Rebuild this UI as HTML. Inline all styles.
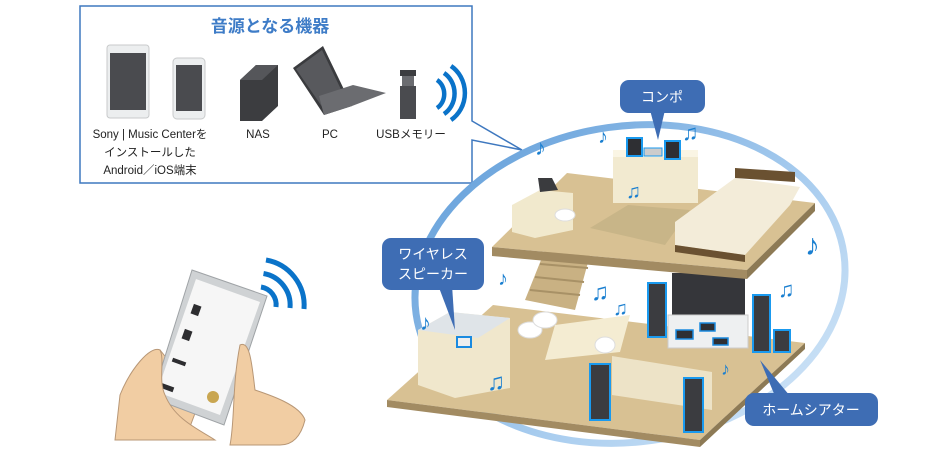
<!DOCTYPE html>
<html><head><meta charset="utf-8">
<style>
html,body{margin:0;padding:0;background:#fff;}
svg{display:block;}
text{font-family:"Liberation Sans","Noto Sans CJK JP",sans-serif;}
</style></head>
<body>
<svg width="950" height="452" viewBox="0 0 950 452" xmlns="http://www.w3.org/2000/svg">
<defs>
<linearGradient id="ell" x1="0" y1="0" x2="1" y2="1">
<stop offset="0" stop-color="#5d9bd8"/><stop offset="0.6" stop-color="#a9cdef"/><stop offset="1" stop-color="#d6e8f8"/>
</linearGradient>
</defs>

<!-- source box -->
<path d="M80 6 H472 V121 L522 150 L472 140 V183 H80 Z" fill="#fff" stroke="#3e78bf" stroke-width="1.5"/>
<text x="270" y="32" font-size="17" fill="#3e7cc7" text-anchor="middle" font-weight="bold">音源となる機器</text>
<rect x="107" y="45" width="42" height="73" rx="3" fill="#eceeef" stroke="#c8cacb"/>
<rect x="110" y="53" width="36" height="57" fill="#4a4b4f"/>
<rect x="173" y="58" width="32" height="61" rx="4" fill="#eceeef" stroke="#c8cacb"/>
<rect x="176" y="65" width="26" height="46" fill="#4a4b4f"/>
<polygon points="240,80 256,65 278,65 278,106 262,121 240,121" fill="#3c3d40"/>
<polygon points="256,65 278,65 262,80 240,80" fill="#55565a"/>
<polygon points="293,68 323,46 352,106 324,115" fill="#3a3b3e"/>
<polygon points="296,69 322,50 348,104 325,111" fill="#58595d"/>
<polygon points="324,115 352,106 386,93 353,85 319,96" fill="#6b6c70"/>
<rect x="400" y="70" width="16" height="6" fill="#3c3d40"/>
<rect x="402" y="76" width="12" height="10" fill="#6b6c70"/>
<rect x="400" y="86" width="16" height="33" fill="#4a4b4f"/>
<g fill="none" stroke="#0a73c9" stroke-width="4.5">
<path d="M437 80 A14 16 0 0 1 437 108"/>
<path d="M444 73 A22 24 0 0 1 444 114"/>
<path d="M451 66 A30 32 0 0 1 451 120"/>
</g>
<g font-size="11.5" fill="#222" text-anchor="middle">
<text x="150" y="138">Sony | Music Centerを</text>
<text x="150" y="156">インストールした</text>
<text x="150" y="174">Android／iOS端末</text>
<text x="258" y="138">NAS</text>
<text x="330" y="138">PC</text>
<text x="411" y="138">USBメモリー</text>
</g>

<!-- hand phone -->
<g fill="none" stroke="#0a73c9" stroke-width="5">
<path d="M261 287 A18 18 0 0 1 276 307"/>
<path d="M263.5 273.5 A32 32 0 0 1 290 308"/>
<path d="M266 260 A46 46 0 0 1 304 309"/>
</g>
<path d="M160 350 C150 360 140 385 135 410 L128 440 L185 440 L200 400 Z" fill="#f1cda3" stroke="#b89776" stroke-width="1"/>
<polygon points="192,270 267,296 224,425 152,398" fill="#cfd2d4" stroke="#9fa3a6"/>
<polygon points="196,279 260,302 220,415 157,392" fill="#f6f6f6"/>
<g fill="#2d2d30">
<rect x="192" y="305" width="8" height="10" transform="rotate(20 196 310)"/>
<rect x="183" y="330" width="8" height="10" transform="rotate(20 187 335)"/>
<rect x="172" y="360" width="14" height="4" transform="rotate(20 179 362)"/>
<rect x="160" y="385" width="14" height="5" transform="rotate(20 167 387)"/>
</g>
<circle cx="213" cy="397" r="6" fill="#c9a651"/>
<path d="M120 395 C130 370 150 345 160 350 C165 360 158 380 165 395 C175 420 200 430 215 440 L115 440 Z" fill="#f1cda3" stroke="#b89776"/>
<path d="M240 345 C250 340 252 365 255 390 C270 395 300 405 305 420 C300 440 290 445 280 445 L230 445 C235 420 232 385 240 345 Z" fill="#f1cda3" stroke="#b89776"/>

<!-- ellipse -->
<ellipse cx="630" cy="284" rx="216" ry="158" fill="none" stroke="url(#ell)" stroke-width="7" transform="rotate(-8 630 284)"/>

<!-- lower floor -->
<polygon points="387,400 493,305 805,343 700,440" fill="#d8c193"/>
<polygon points="387,400 700,440 700,447 387,407" fill="#a28b62"/>
<polygon points="700,440 805,343 805,349 700,447" fill="#8d7a55"/>
<polygon points="525,300 545,250 590,255 575,310" fill="#c9b183"/>
<g stroke="#a89166" stroke-width="2"><line x1="530" y1="290" x2="580" y2="295"/><line x1="535" y1="277" x2="584" y2="282"/><line x1="540" y1="264" x2="588" y2="268"/></g>
<polygon points="418,330 450,312 510,318 510,388 455,398 418,385" fill="#f0e7cc"/>
<polygon points="418,330 450,312 510,318 478,338" fill="#dfe4e8"/>
<rect x="457" y="337" width="14" height="10" fill="#eee" stroke="#1a8ae0" stroke-width="2"/>
<polygon points="555,325 630,315 620,352 545,360" fill="#f4ecd2"/>
<g fill="#fff" stroke="#ddd"><ellipse cx="530" cy="330" rx="12" ry="8"/><ellipse cx="545" cy="320" rx="12" ry="8"/><ellipse cx="605" cy="345" rx="10" ry="8"/></g>
<polygon points="612,356 712,372 712,410 612,395" fill="#ede3c7"/>
<rect x="672" y="273" width="73" height="42" fill="#35363a"/>
<rect x="668" y="315" width="80" height="33" fill="#eef0f1" stroke="#ccc"/>
<g fill="#2e2f33" stroke="#1a8ae0" stroke-width="1.5">
<rect x="700" y="323" width="15" height="8"/><rect x="676" y="330" width="17" height="9"/><rect x="713" y="338" width="15" height="7"/>
</g>
<g fill="#3b3c40" stroke="#1a9aef" stroke-width="2">
<rect x="648" y="283" width="18" height="54"/>
<rect x="753" y="295" width="17" height="57"/>
<rect x="774" y="330" width="16" height="22"/>
<rect x="590" y="364" width="20" height="56"/>
<rect x="684" y="378" width="19" height="54"/>
</g>

<!-- upper floor -->
<polygon points="492,247 567,173 815,203 747,270" fill="#d8c193"/>
<polygon points="492,247 747,270 747,279 492,256" fill="#a28b62"/>
<polygon points="747,270 815,203 815,211 747,279" fill="#8d7a55"/>
<polygon points="590,228 628,205 690,210 665,245" fill="#c8b588"/>
<polygon points="512,205 540,190 573,193 573,230 535,238 512,232" fill="#f1e9cd"/>
<polygon points="538,178 552,178 558,190 540,192" fill="#3a3b3e"/>
<ellipse cx="565" cy="215" rx="10" ry="6" fill="#fff" stroke="#ddd"/>
<rect x="613" y="155" width="85" height="48" fill="#f2ead0"/>
<rect x="613" y="150" width="85" height="7" fill="#faf5e4"/>
<g fill="#2e2f33" stroke="#1a9aef" stroke-width="2">
<rect x="627" y="138" width="15" height="18"/><rect x="665" y="141" width="15" height="18"/>
</g>
<rect x="644" y="148" width="18" height="8" fill="#ccc" stroke="#1a9aef"/>
<polygon points="675,222 735,178 800,187 790,205 745,255 675,245" fill="#f3ecd9"/>
<polygon points="675,245 745,255 745,262 675,252" fill="#6a5131"/>
<polygon points="735,178 795,182 795,172 735,168" fill="#6a5131"/>

<g fill="#1a7fd0" font-family="DejaVu Sans, sans-serif">
<text x="535" y="155" font-size="22">♪</text>
<text x="598" y="143" font-size="20">♪</text>
<text x="682" y="140" font-size="22">♫</text>
<text x="626" y="198" font-size="20">♫</text>
<text x="805" y="255" font-size="30">♪</text>
<text x="778" y="297" font-size="22">♫</text>
<text x="498" y="285" font-size="20">♪</text>
<text x="591" y="300" font-size="24">♫</text>
<text x="613" y="315" font-size="20">♫</text>
<text x="420" y="330" font-size="22">♪</text>
<text x="487" y="390" font-size="24">♫</text>
<text x="721" y="375" font-size="18">♪</text>
</g>

<g fill="#3e6db4">
<rect x="620" y="80" width="85" height="33" rx="9"/>
<polygon points="650,110 665,110 658,140"/>
<rect x="382" y="238" width="102" height="52" rx="9"/>
<polygon points="438,285 452,285 455,330"/>
<rect x="745" y="393" width="133" height="33" rx="9"/>
<polygon points="775,396 790,396 760,360"/>
</g>
<g fill="#fff" font-size="14" text-anchor="middle">
<text x="662" y="102">コンポ</text>
<text x="433" y="259">ワイヤレス</text>
<text x="433" y="279">スピーカー</text>
<text x="811" y="415">ホームシアター</text>
</g>
</svg>
</body></html>
